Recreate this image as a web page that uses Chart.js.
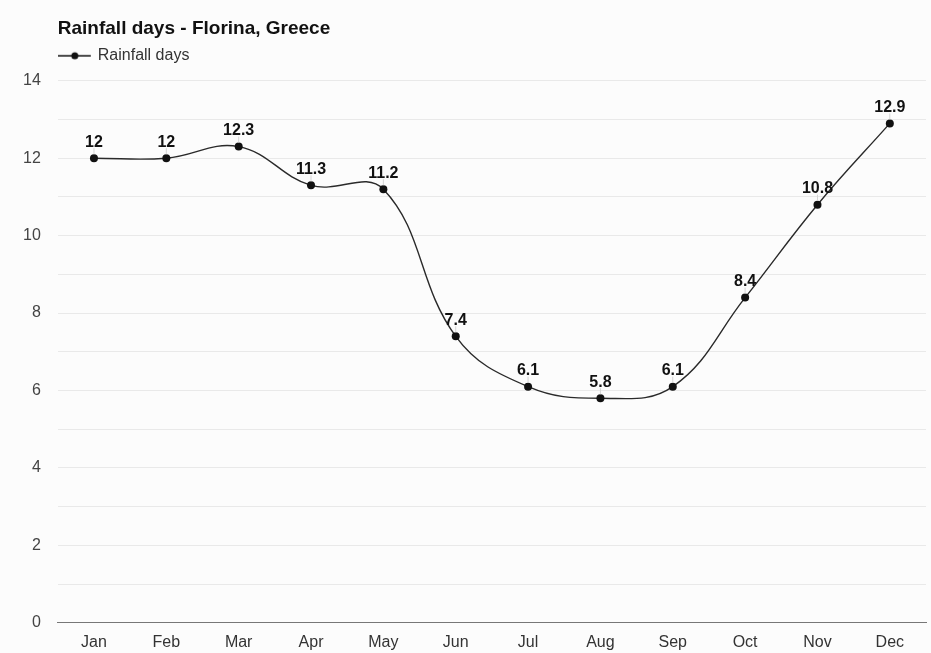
<!DOCTYPE html>
<html>
<head>
<meta charset="utf-8">
<title>Rainfall days - Florina, Greece</title>
<script src="https://cdn.jsdelivr.net/npm/chart.js@4/dist/chart.umd.min.js"></script>
<style>
  html, body { margin: 0; padding: 0; background: #fcfcfc; }
  #wrap { width: 931px; height: 653px; position: relative; }
</style>
</head>
<body>
<div id="wrap"><canvas id="rain-chart"></canvas></div>
<script>
const months = ['Jan', 'Feb', 'Mar', 'Apr', 'May', 'Jun', 'Jul', 'Aug', 'Sep', 'Oct', 'Nov', 'Dec'];
const rainfallDays = [12, 12, 12.3, 11.3, 11.2, 7.4, 6.1, 5.8, 6.1, 8.4, 10.8, 12.9];
const yMin = 0;
const yMax = 14;

const FONT = 'Arial, "Liberation Sans", sans-serif';

// line-with-dot marker for the legend (blank strip on the right keeps the text clear)
function legendMarker() {
    const c = document.createElement('canvas');
    c.width = 40;
    c.height = 10;
    const g = c.getContext('2d');
    g.strokeStyle = '#111';
    g.lineWidth = 1.5;
    g.beginPath();
    g.moveTo(0, 5);
    g.lineTo(33, 5);
    g.stroke();
    g.fillStyle = '#111';
    g.beginPath();
    g.arc(17, 5, 3.5, 0, Math.PI * 2);
    g.fill();
    return c;
}

// extra gap between the legend and the plot
const legendSpacer = {
    id: 'legendSpacer',
    beforeInit(chart) {
        const fit = chart.legend.fit;
        chart.legend.fit = function () {
            fit.call(this);
            this.height += 7;
        };
    }
};

// value labels above each point
const valueLabels = {
    id: 'valueLabels',
    afterDatasetsDraw(chart) {
        const ctx = chart.ctx;
        const meta = chart.getDatasetMeta(0);
        ctx.save();
        ctx.font = 'bold 16px ' + FONT;
        ctx.fillStyle = '#111';
        ctx.textAlign = 'center';
        ctx.textBaseline = 'bottom';
        meta.data.forEach((pt, i) => {
            ctx.strokeStyle = '#d4d4d4';
            ctx.lineWidth = 1;
            ctx.beginPath();
            ctx.moveTo(pt.x, pt.y - 4);
            ctx.lineTo(pt.x, pt.y - 10);
            ctx.stroke();
            ctx.fillText(String(rainfallDays[i]), pt.x, pt.y - 8);
        });
        ctx.restore();
    }
};

const ctx = document.querySelector('#rain-chart').getContext('2d');

new Chart(ctx, {
    type: 'line',
    data: {
        labels: months,
        datasets: [{
            label: 'Rainfall days',
            data: rainfallDays,
            borderColor: '#2a2a2a',
            backgroundColor: '#111',
            borderWidth: 1.4,
            pointRadius: 4,
            pointHoverRadius: 4,
            pointBackgroundColor: '#111',
            pointBorderWidth: 0,
            tension: 0.4,
            pointStyle: 'circle'
        }]
    },
    options: {
        responsive: true,
        maintainAspectRatio: false,
        animation: false,
        layout: { padding: { top: 17, right: 5, left: 6, bottom: -9 } },
        plugins: {
            title: {
                display: true,
                text: 'Rainfall days - Florina, Greece',
                align: 'start',
                fullSize: false,
                color: '#111',
                font: { family: FONT, size: 19, weight: 'bold' },
                padding: { top: 0, bottom: 0 }
            },
            legend: {
                display: true,
                align: 'start',
                fullSize: false,
                labels: {
                    usePointStyle: true,
                    pointStyleWidth: 24,
                    boxHeight: 10,
                    color: '#333',
                    padding: 8,
                    font: { family: FONT, size: 16 },
                    generateLabels(chart) {
                        return [{
                            text: 'Rainfall days',
                            pointStyle: legendMarker(),
                            fontColor: '#333',
                            lineWidth: 0,
                            datasetIndex: 0
                        }];
                    }
                }
            },
            tooltip: { enabled: false }
        },
        scales: {
            x: {
                offset: true,
                grid: { display: false, drawTicks: false },
                border: { display: true, color: '#777', width: 1 },
                ticks: {
                    color: '#333',
                    padding: 10,
                    font: { family: FONT, size: 16 }
                }
            },
            y: {
                min: yMin,
                max: yMax,
                border: { display: false },
                grid: {
                    color: '#e9e9e9',
                    drawTicks: false
                },
                ticks: {
                    stepSize: 1,
                    autoSkip: false,
                    color: '#444',
                    padding: 17,
                    font: { family: FONT, size: 16 },
                    callback: v => (v % 2 === 0 ? v : '')
                }
            }
        }
    },
    plugins: [legendSpacer, valueLabels]
});
</script>
</body>
</html>
